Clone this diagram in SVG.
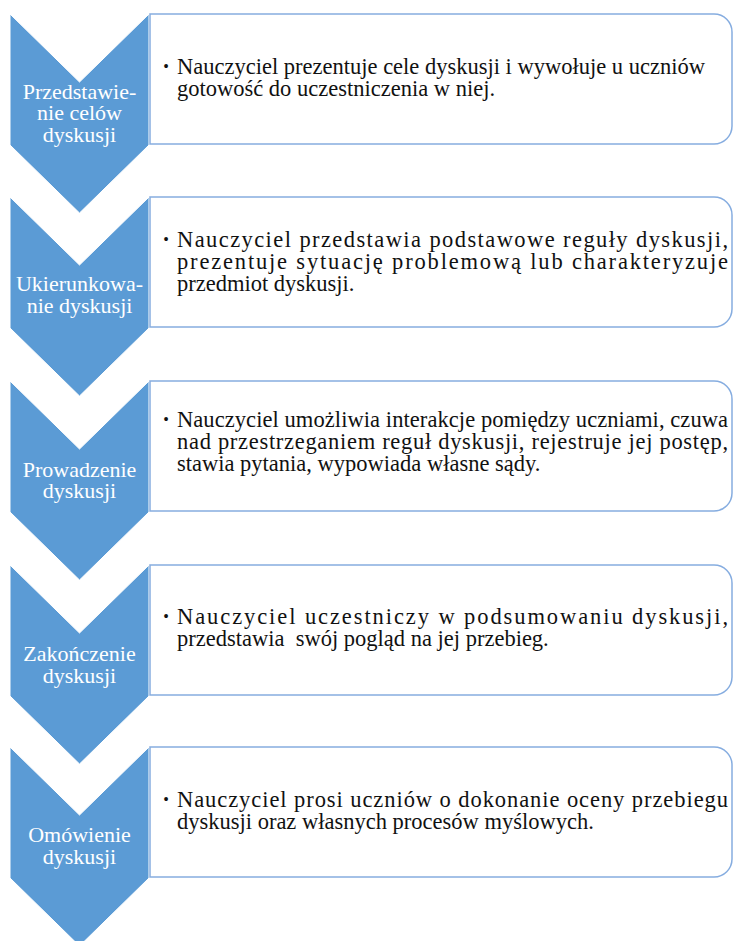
<svg xmlns="http://www.w3.org/2000/svg" width="733" height="941" viewBox="0 0 733 941" font-family="'Liberation Serif', 'DejaVu Serif', serif">
<style>
.chev{fill:#5B9BD5;stroke:#ffffff;stroke-width:1}
.box{fill:#ffffff;stroke:#86ADE0;stroke-width:1.5}
text{font-family:'Liberation Serif','DejaVu Serif',serif}
.ct{font-size:22px;fill:#ffffff;text-anchor:middle}
.bt{font-size:22.5px;fill:#111111}
.bul{font-size:16px;fill:#111111;text-anchor:middle}
</style>
<rect x="0" y="0" width="733" height="941" fill="#ffffff"/>
<g id="connectors"></g>

<g id="step1">
<path class="chev" d="M10,14 L79.5,82 L149,14 L149,145 L79.5,213 L10,145 Z"/>
<text class="ct" x="79.5" y="98.5">Przedstawie-</text>
<text class="ct" x="79.5" y="120">nie celów</text>
<text class="ct" x="79.5" y="141.5">dyskusji</text>
<path class="box" d="M150,14 H714 A18,18 0 0 1 732,32 V126 A18,18 0 0 1 714,144 H150 Z"/>
<text class="bul" x="166" y="72">•</text>
<text class="bt" x="177" y="74">Nauczyciel prezentuje cele dyskusji i wywołuje u uczniów</text>
<text class="bt" x="177" y="96">gotowość do uczestniczenia w niej.</text>
</g>

<g id="step2">
<path class="chev" d="M10,197 L79.5,265 L149,197 L149,328 L79.5,396 L10,328 Z"/>
<text class="ct" x="79.5" y="291">Ukierunkowa-</text>
<text class="ct" x="79.5" y="313">nie dyskusji</text>
<path class="box" d="M150,197 H714 A18,18 0 0 1 732,215 V309 A18,18 0 0 1 714,327 H150 Z"/>
<text class="bul" x="166" y="245">•</text>
<text class="bt" x="177" y="247" textLength="551" lengthAdjust="spacing">Nauczyciel przedstawia podstawowe reguły dyskusji,</text>
<text class="bt" x="177" y="269" textLength="551" lengthAdjust="spacing">prezentuje sytuację problemową lub charakteryzuje</text>
<text class="bt" x="177" y="291">przedmiot dyskusji.</text>
</g>

<g id="step3">
<path class="chev" d="M10,381 L79.5,449 L149,381 L149,512 L79.5,580 L10,512 Z"/>
<text class="ct" x="79.5" y="476.5">Prowadzenie</text>
<text class="ct" x="79.5" y="498">dyskusji</text>
<path class="box" d="M150,381 H714 A18,18 0 0 1 732,399 V493 A18,18 0 0 1 714,511 H150 Z"/>
<text class="bul" x="166" y="425">•</text>
<text class="bt" x="177" y="427" textLength="551" lengthAdjust="spacing">Nauczyciel umożliwia interakcje pomiędzy uczniami, czuwa</text>
<text class="bt" x="177" y="449" textLength="551" lengthAdjust="spacing">nad przestrzeganiem reguł dyskusji, rejestruje jej postęp,</text>
<text class="bt" x="177" y="471">stawia pytania, wypowiada własne sądy.</text>
</g>

<g id="step4">
<path class="chev" d="M10,565 L79.5,633 L149,565 L149,696 L79.5,764 L10,696 Z"/>
<text class="ct" x="79.5" y="660.5">Zakończenie</text>
<text class="ct" x="79.5" y="682.5">dyskusji</text>
<path class="box" d="M150,565 H714 A18,18 0 0 1 732,583 V677 A18,18 0 0 1 714,695 H150 Z"/>
<text class="bul" x="166" y="622">•</text>
<text class="bt" x="177" y="624" textLength="551" lengthAdjust="spacing">Nauczyciel uczestniczy w podsumowaniu dyskusji,</text>
<text class="bt" x="177" y="646" xml:space="preserve">przedstawia  swój pogląd na jej przebieg.</text>
</g>

<g id="step5">
<path class="chev" d="M10,747 L79.5,815 L149,747 L149,878 L79.5,946 L10,878 Z"/>
<text class="ct" x="79.5" y="841.5">Omówienie</text>
<text class="ct" x="79.5" y="863.5">dyskusji</text>
<path class="box" d="M150,747 H714 A18,18 0 0 1 732,765 V859 A18,18 0 0 1 714,877 H150 Z"/>
<text class="bul" x="166" y="805">•</text>
<text class="bt" x="177" y="807" textLength="551" lengthAdjust="spacing">Nauczyciel prosi uczniów o dokonanie oceny przebiegu</text>
<text class="bt" x="177" y="829">dyskusji oraz własnych procesów myślowych.</text>
</g>
</svg>
